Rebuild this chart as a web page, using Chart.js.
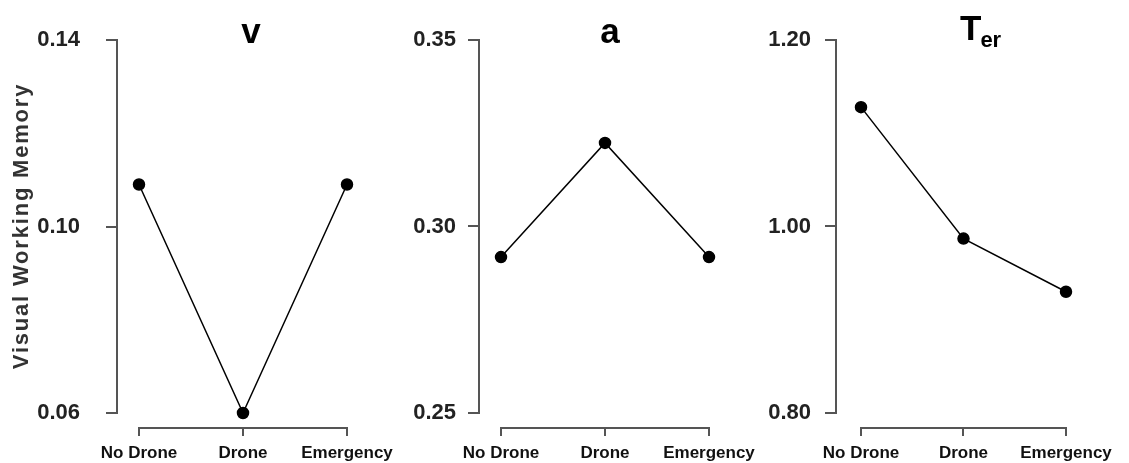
<!DOCTYPE html>
<html><head><meta charset="utf-8">
<script src="https://cdn.jsdelivr.net/npm/chart.js@4.4.1/dist/chart.umd.min.js"></script>
<style>
html,body{margin:0;padding:0;background:#fff;overflow:hidden;}
#wrap{position:relative;width:1129px;height:463px;overflow:hidden;}
canvas{position:absolute;top:0;display:block;}
</style></head><body>
<div id="wrap">
<canvas id="c0" width="420" height="463" style="left:0px"></canvas>
<canvas id="c1" width="420" height="463" style="left:376px"></canvas>
<canvas id="c2" width="384" height="463" style="left:745px"></canvas>
</div>
<script>
// ---- data ----
const categories = ['No Drone', 'Drone', 'Emergency'];
const vValues = [0.109, 0.060, 0.109];
const aValues = [0.2918, 0.3224, 0.2918];
const terValues = [1.128, 0.987, 0.930];
const vTicks = [0.06, 0.10, 0.14];
const aTicks = [0.25, 0.30, 0.35];
const terTicks = [0.80, 1.00, 1.20];
const vTickLabels = ['0.06', '0.10', '0.14'];
const aTickLabels = ['0.25', '0.30', '0.35'];
const terTickLabels = ['0.80', '1.00', '1.20'];
const yAxisTitle = 'Visual Working Memory';

// ---- layout (pixels) ----
const H = 463, TOP = 40, XAXIS_Y = 428, YAXIS_END = 413;
const panels = [
  {id:'c0', left:0,   width:420, axisX:117, cat0:139, cat2:347, labelPad:26, titleX:251, title:'v', values:vValues, ticks:vTicks, tickLabels:vTickLabels, yTitle:true},
  {id:'c1', left:376, width:420, axisX:479, cat0:501, cat2:709, labelPad:12, titleX:610, title:'a', values:aValues, ticks:aTicks, tickLabels:aTickLabels},
  {id:'c2', left:745, width:384, axisX:836, cat0:861, cat2:1066, labelPad:14, titleX:960, title:'T', sub:'er', values:terValues, ticks:terTicks, tickLabels:terTickLabels}
];

const AXIS_COLOR = '#555';
const SANS = '"Liberation Sans", Arial, Helvetica, sans-serif';

panels.forEach(P => {
  const k = (P.cat2 - P.cat0) / 2;
  const gapL = P.cat0 - P.axisX;
  const xMin = -gapL / k, xMax = 2 + gapL / k;
  const chartRight = P.cat2 + gapL;
  const padRight = P.left + P.width - chartRight;
  const tMin = P.ticks[0], tMax = P.ticks[P.ticks.length - 1];
  const yMin = tMin - (tMax - tMin) * (XAXIS_Y - YAXIS_END) / (YAXIS_END - TOP);

  const axesPlugin = {
    id: 'axes' + P.id,
    afterDraw(chart) {
      const ctx = chart.ctx, ca = chart.chartArea;
      const xs = chart.scales.x, ys = chart.scales.y;
      ctx.save();
      ctx.strokeStyle = AXIS_COLOR;
      ctx.lineWidth = 2;
      ctx.lineCap = 'square';
      ctx.beginPath();
      ctx.moveTo(ca.left, ys.getPixelForValue(tMax));
      ctx.lineTo(ca.left, ys.getPixelForValue(tMin));
      ctx.stroke();
      ctx.beginPath();
      ctx.moveTo(xs.getPixelForValue(0), ca.bottom);
      ctx.lineTo(xs.getPixelForValue(2), ca.bottom);
      ctx.stroke();
      ctx.restore();

      // panel title
      ctx.save();
      ctx.fillStyle = '#000';
      ctx.textBaseline = 'alphabetic';
      ctx.font = 'bold 35px ' + SANS;
      const tx = P.titleX - P.left;
      if (P.sub) {
        ctx.textAlign = 'left';
        ctx.fillText(P.title, tx, 40);
        const w = ctx.measureText(P.title).width;
        ctx.font = 'bold 22px ' + SANS;
        ctx.fillText(P.sub, tx + w - 1, 47);
      } else {
        ctx.textAlign = 'center';
        ctx.fillText(P.title, tx, 43);
      }
      ctx.restore();

      if (P.yTitle) {
        ctx.save();
        ctx.translate(22, 226);
        ctx.rotate(-Math.PI / 2);
        ctx.fillStyle = '#333';
        ctx.font = 'bold 22px ' + SANS;
        ctx.letterSpacing = '1.8px';
        ctx.textAlign = 'center';
        ctx.textBaseline = 'middle';
        ctx.fillText(yAxisTitle, 0, 0);
        ctx.restore();
      }
    }
  };

  new Chart(document.getElementById(P.id), {
    type: 'line',
    data: {
      datasets: [{
        data: P.values.map((v, i) => ({x: i, y: v})),
        borderColor: '#000',
        borderWidth: 1.5,
        backgroundColor: '#000',
        pointBackgroundColor: '#000',
        pointBorderColor: '#000',
        pointRadius: 5.5,
        pointHoverRadius: 5.5,
        tension: 0,
        clip: false
      }]
    },
    options: {
      responsive: false,
      maintainAspectRatio: false,
      animation: false,
      devicePixelRatio: 1,
      layout: {padding: {top: TOP, left: 0, right: padRight, bottom: 0}},
      plugins: {legend: {display: false}, tooltip: {enabled: false}, title: {display: false}},
      scales: {
        x: {
          type: 'linear',
          min: xMin, max: xMax,
          afterBuildTicks: s => { s.ticks = categories.map((c, i) => ({value: i})); },
          afterFit: s => { s.height = H - XAXIS_Y; s.paddingLeft = 0; s.paddingRight = 0; },
          border: {display: false},
          grid: {display: true, drawOnChartArea: false, drawTicks: true, tickLength: 8, color: AXIS_COLOR, lineWidth: 2},
          ticks: {
            autoSkip: false, maxRotation: 0, padding: 7,
            color: '#111',
            font: {family: SANS, size: 17, weight: 'bold'},
            callback: v => categories[v]
          }
        },
        y: {
          type: 'linear',
          min: yMin, max: tMax,
          afterBuildTicks: s => { s.ticks = P.ticks.map(v => ({value: v})); },
          afterFit: s => { s.width = P.axisX - P.left; s.paddingTop = 0; s.paddingBottom = 0; },
          border: {display: false},
          grid: {display: true, drawOnChartArea: false, drawTicks: true, tickLength: 11, color: AXIS_COLOR, lineWidth: 2},
          ticks: {
            padding: P.labelPad,
            color: '#222',
            font: {family: SANS, size: 22, weight: 'bold'},
            callback: v => { const i = P.ticks.indexOf(v); return i >= 0 ? P.tickLabels[i] : ''; }
          }
        }
      }
    },
    plugins: [axesPlugin]
  });
});
</script>
</body></html>
